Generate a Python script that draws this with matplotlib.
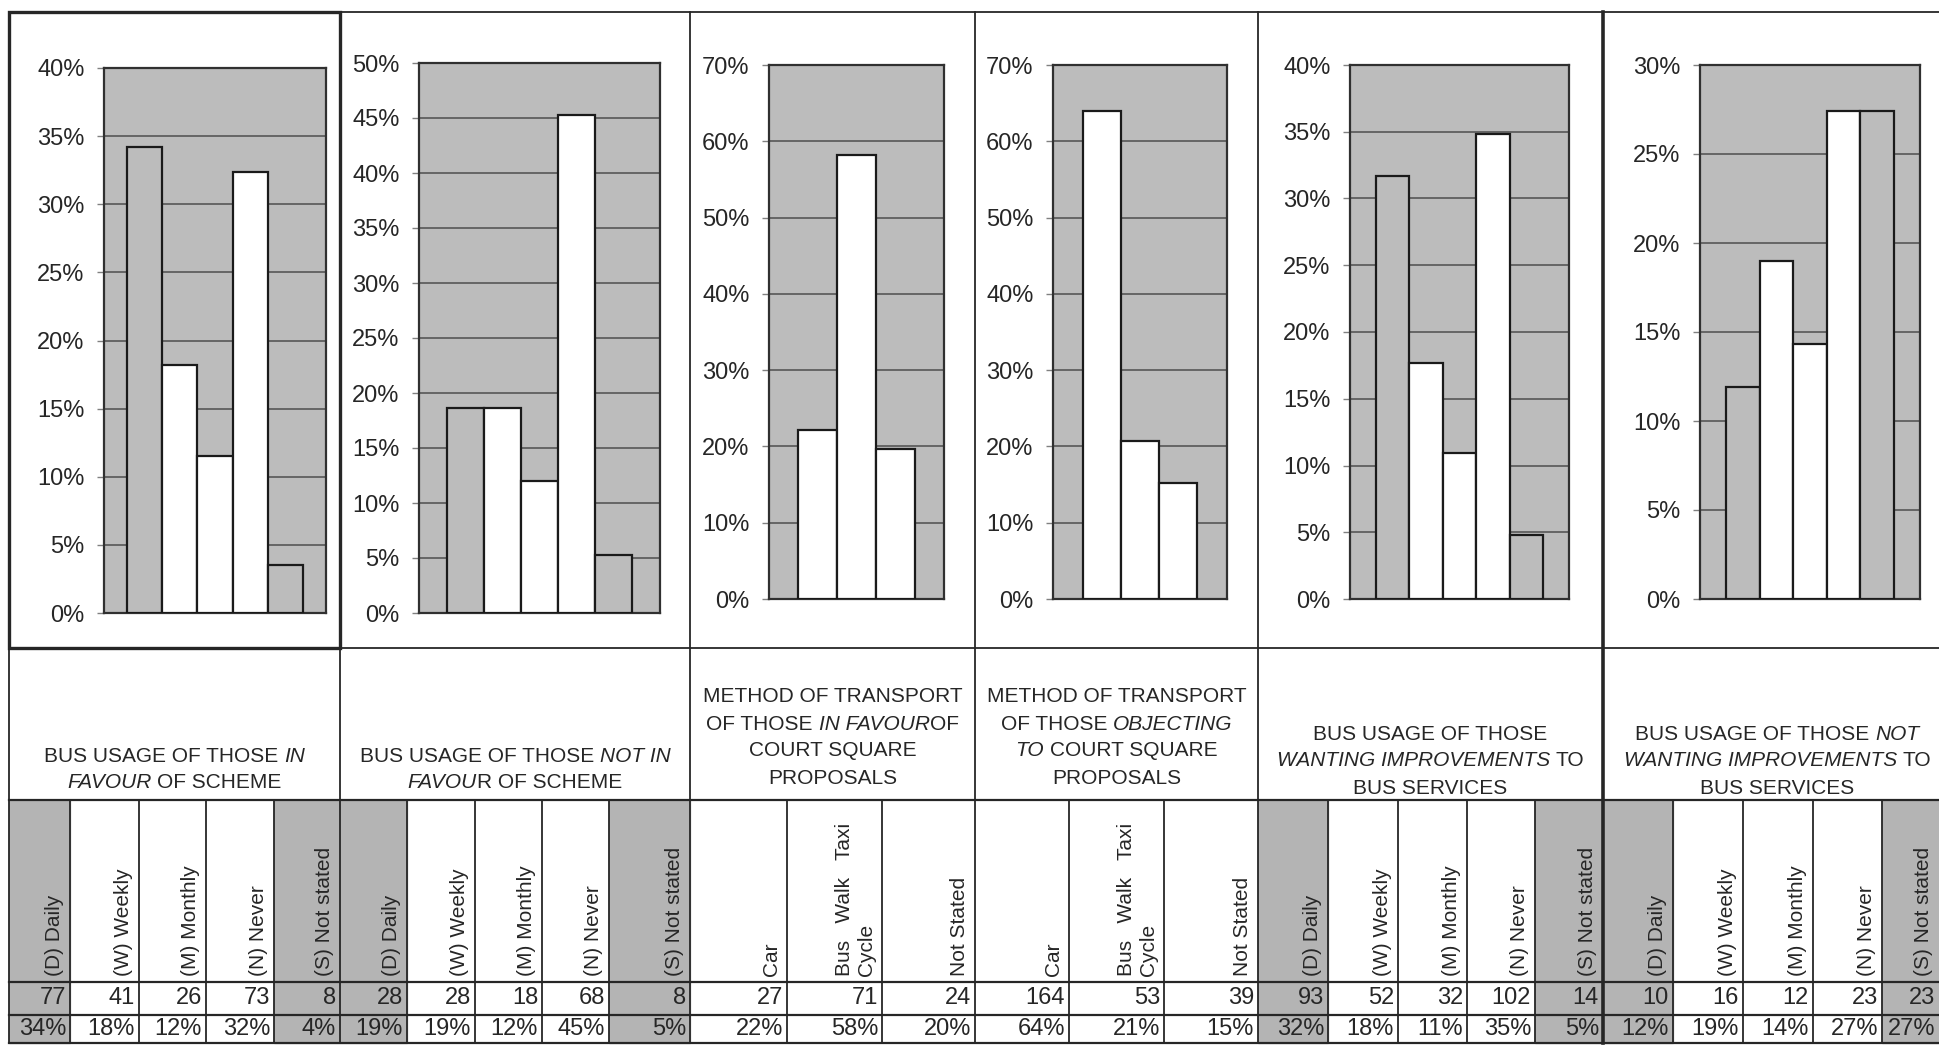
import matplotlib
matplotlib.use("Agg")
import matplotlib.pyplot as plt
from matplotlib import font_manager
from matplotlib.patches import Rectangle
import numpy as np

W, H = 1939, 1045

# --- data ---
bus_cats = ["(D) Daily", "(W) Weekly", "(M) Monthly", "(N) Never", "(S) Not stated"]
mode_cats = ["Car", "Bus   Walk   Taxi\nCycle", "Not Stated"]

favour_pct = [34.2, 18.2, 11.5, 32.4, 3.5]
not_favour_pct = [18.6, 18.6, 12.0, 45.3, 5.3]
mode_favour_pct = [22.1, 58.2, 19.7]
mode_object_pct = [64.0, 20.7, 15.2]
want_pct = [31.7, 17.7, 10.9, 34.8, 4.8]
not_want_pct = [11.9, 19.0, 14.3, 27.4, 27.4]

favour_n = [77, 41, 26, 73, 8]
not_favour_n = [28, 28, 18, 68, 8]
mode_favour_n = [27, 71, 24]
mode_object_n = [164, 53, 39]
want_n = [93, 52, 32, 102, 14]
not_want_n = [10, 16, 12, 23, 23]

favour_lbl = ["34%", "18%", "12%", "32%", "4%"]
not_favour_lbl = ["19%", "19%", "12%", "45%", "5%"]
mode_favour_lbl = ["22%", "58%", "20%"]
mode_object_lbl = ["64%", "21%", "15%"]
want_lbl = ["32%", "18%", "11%", "35%", "5%"]
not_want_lbl = ["12%", "19%", "14%", "27%", "27%"]

y_max = [40, 50, 70, 70, 40, 30]
y_step = [5, 5, 10, 10, 5, 5]

# *...* marks the italic words
titles = [
    ["BUS USAGE OF THOSE *IN*", "*FAVOUR* OF SCHEME"],
    ["BUS USAGE OF THOSE *NOT IN*", "*FAVOU*R OF SCHEME"],
    ["METHOD OF TRANSPORT", "OF THOSE *IN FAVOUR*OF", "COURT SQUARE", "PROPOSALS"],
    ["METHOD OF TRANSPORT", "OF THOSE *OBJECTING*", "*TO* COURT SQUARE", "PROPOSALS"],
    ["BUS USAGE OF THOSE", "*WANTING IMPROVEMENTS* TO", "BUS SERVICES"],
    ["BUS USAGE OF THOSE *NOT*", "*WANTING IMPROVEMENTS* TO", "BUS SERVICES"],
]

pct_series = [favour_pct, not_favour_pct, mode_favour_pct, mode_object_pct, want_pct, not_want_pct]
n_series = [favour_n, not_favour_n, mode_favour_n, mode_object_n, want_n, not_want_n]
lbl_series = [favour_lbl, not_favour_lbl, mode_favour_lbl, mode_object_lbl, want_lbl, not_want_lbl]
cat_series = [bus_cats, bus_cats, mode_cats, mode_cats, bus_cats, bus_cats]

# --- layout (pixels of the page) ---
col_edges = [
    [9, 70, 139, 206, 274, 340],
    [340, 407, 475, 542, 609, 690],
    [690, 787, 882, 975],
    [975, 1069, 1164, 1258],
    [1258, 1328, 1398, 1467, 1535, 1603],
    [1603, 1673, 1743, 1813, 1882, 1939],
]
plot_boxes = [(104, 68, 326, 613), (419, 63, 660, 613), (769, 65, 944, 599),
              (1053, 65, 1227, 599), (1350, 65, 1569, 599), (1700, 65, 1920, 599)]
side_pad = [0.67, 0.75, 0.74, 0.77, 0.76, 0.77]
title_bottom = [783, 783, 778, 778, 788, 788]
row_top, row_mid, row_lab, row_cnt, row_pct, row_end = 12, 648, 800, 982, 1015, 1043

ink = "#262626"
grey = "#bcbcbc"
cell_grey = "#b4b4b4"

plt.rcParams["font.family"] = "Liberation Sans"
names = {f.name for f in font_manager.fontManager.ttflist}
num_font = "Liberation Sans Narrow" if "Liberation Sans Narrow" in names else "Liberation Sans"

fig = plt.figure(figsize=(W / 100, H / 100), dpi=100)
fig.patch.set_facecolor("white")
page = fig.add_axes([0, 0, 1, 1])
page.set_xlim(0, W)
page.set_ylim(H, 0)
page.axis("off")
renderer = fig.canvas.get_renderer()


def rich_line(cx, cy, markup, size=15):
    pieces, gap = [], False
    for i, part in enumerate(markup.split("*")):
        if part.startswith(" "):
            gap = True
        core = part.strip()
        if core:
            pieces.append((core, i % 2 == 1, gap))
            gap = False
        if part.endswith(" "):
            gap = True
    space = 0.278 * size * 100 / 72
    placed, total = [], 0
    for core, ital, g in pieces:
        t = page.text(0, cy, core, fontsize=size, style="italic" if ital else "normal",
                      ha="left", va="center", color=ink)
        w = t.get_window_extent(renderer).width
        placed.append((t, w, g))
        total += w + (space if g else 0)
    x = cx - total / 2
    for t, w, g in placed:
        if g:
            x += space
        t.set_x(x)
        x += w


for k in range(6):
    edges = col_edges[k]
    cats = cat_series[k]
    bus = len(cats) == 5
    n = len(cats)

    # shaded table cells for Daily / Not stated
    if bus:
        for j in (0, 4):
            page.add_patch(Rectangle((edges[j], row_lab), edges[j + 1] - edges[j],
                                     row_end - row_lab, color=cell_grey, zorder=0))

    # title
    lines = titles[k]
    for i, ln in enumerate(lines):
        y = title_bottom[k] - 27 * (len(lines) - 1 - i)
        rich_line((col_edges[k][0] + (1952 if k == 5 else edges[-1])) / 2, y, ln)

    # table body
    for j in range(n):
        right = edges[j + 1]
        page.text(right - 6, row_cnt - 6, cats[j], rotation=90, ha="right", va="bottom",
                  multialignment="left", fontsize=15, color=ink)
        page.text(right - 4, (row_cnt + row_pct) / 2, str(n_series[k][j]), ha="right",
                  va="center", fontsize=17, family=num_font, color=ink)
        page.text(right - 4, (row_pct + row_end) / 2, lbl_series[k][j], ha="right",
                  va="center", fontsize=17, family=num_font, color=ink)
        if j > 0:
            page.plot([edges[j], edges[j]], [row_lab, row_end], color=ink, lw=1.3)

    # chart
    x0, y0, x1, y1 = plot_boxes[k]
    ax = fig.add_axes([x0 / W, 1 - y1 / H, (x1 - x0) / W, (y1 - y0) / H])
    ax.set_facecolor(grey)
    fills = [grey if (bus and j in (0, 4)) else "white" for j in range(n)]
    ax.bar(range(n), pct_series[k], width=1.0, color=fills, edgecolor="#1a1a1a",
           linewidth=1.6, zorder=3)
    ax.set_xlim(-0.5 - side_pad[k], n - 0.5 + side_pad[k])
    ax.set_ylim(0, y_max[k])
    ticks = np.arange(0, y_max[k] + y_step[k], y_step[k])
    ax.set_yticks(ticks)
    ax.set_yticklabels([f"{t}%" for t in ticks])
    ax.set_xticks([])
    ax.yaxis.grid(True, color="#5e5e5e", lw=1.3)
    ax.set_axisbelow(True)
    ax.tick_params(axis="y", length=5, width=1, color="#808080", pad=9,
                   labelsize=17, labelcolor=ink)
    for s in ax.spines.values():
        s.set_color("#303030")
        s.set_linewidth(1.6)

# table grid
for y in (row_top, row_mid):
    page.plot([9, W], [y, y], color=ink, lw=1.3)
for y in (row_lab, row_cnt, row_pct, row_end):
    page.plot([9, W], [y, y], color=ink, lw=1.6)
for x in (9, 340, 690, 975, 1258):
    page.plot([x, x], [row_top, row_end], color=ink, lw=1.3)
page.plot([1603, 1603], [row_top, row_end], color=ink, lw=2.6)
page.add_patch(Rectangle((9, row_top), 331, row_mid - row_top, fill=False,
                         edgecolor=ink, lw=2.4, zorder=1))

fig.savefig("out.png", dpi=100)
